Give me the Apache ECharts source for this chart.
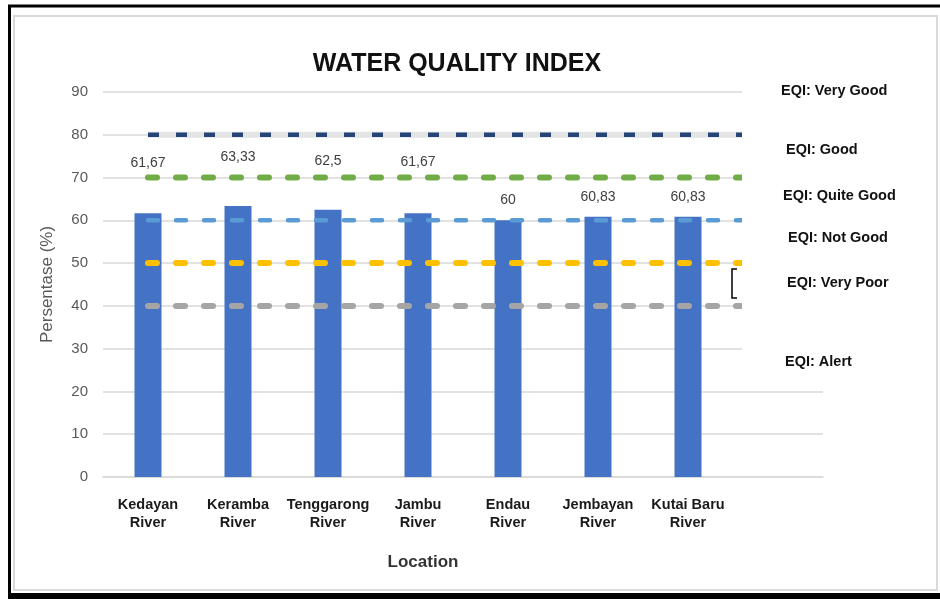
<!DOCTYPE html>
<html><head><meta charset="utf-8">
<script src="https://cdn.jsdelivr.net/npm/echarts@6/dist/echarts.min.js"></script>
<style>html,body{margin:0;padding:0;background:#fff}#c{width:940px;height:599px}</style>
</head><body><div id="c"></div>
<script>
const categories = ['Kedayan River','Keramba River','Tenggarong River','Jambu River','Endau River','Jembayan River','Kutai Baru River',''];
const wqiValues = [61.67, 63.33, 62.5, 61.67, 60, 60.83, 60.83];
const eqiVeryGood = [80,80,80,80,80,80,80,80];
const eqiGood = [70,70,70,70,70,70,70,70];
const eqiQuiteGood = [60,60,60,60,60,60,60,60];
const eqiNotGood = [50,50,50,50,50,50,50,50];
const eqiVeryPoor = [40,40,40,40,40,40,40,40];
const eqiLabels = ['EQI: Very Good','EQI: Good','EQI: Quite Good','EQI: Not Good','EQI: Very Poor','EQI: Alert'];
const yTicks = [0,10,20,30,40,50,60,70,80,90];

// styling (not data)
const labelDistance = [43,42,41,44,13,13,13];
const eqiLabelPos = [[781,91],[786,150],[783,196],[788,238],[787,283],[785,362]];

const chart = echarts.init(document.getElementById('c'));
const sans = "'Liberation Sans',Arial,sans-serif";

function dashLine(name, data, color, width, dash, cap, z) {
  return {
    name, type: 'line', data, symbol: 'none', silent: true, z: z || 3,
    lineStyle: { color, width, type: dash, cap: cap || 'butt' }
  };
}

const graphics = [
  { type: 'rect', shape: { x: 14, y: 16, width: 923, height: 574 }, style: { fill: 'none', stroke: '#d9d9d9', lineWidth: 2 }, z: 100 },
  { type: 'line', shape: { x1: 8, y1: 6, x2: 940, y2: 6 }, style: { stroke: '#000', lineWidth: 3 }, z: 100 },
  { type: 'line', shape: { x1: 9.5, y1: 5, x2: 9.5, y2: 599 }, style: { stroke: '#000', lineWidth: 3 }, z: 100 },
  { type: 'line', shape: { x1: 8, y1: 596, x2: 940, y2: 596 }, style: { stroke: '#000', lineWidth: 6 }, z: 100 },
  { type: 'rect', shape: { x: 742, y: 78, width: 193, height: 308 }, style: { fill: '#fff' }, z: 50 },
  { type: 'polyline', shape: { points: [[737, 269], [732, 269], [732, 298], [737, 298]] }, style: { stroke: '#000', lineWidth: 1.5, fill: 'none' }, z: 60 },
  { type: 'text', x: 423, y: 562, style: { text: 'Location', font: "bold 17px " + sans, fill: '#333', align: 'center', verticalAlign: 'middle' }, z: 60 }
];
eqiLabels.forEach((t, i) => {
  graphics.push({ type: 'text', x: eqiLabelPos[i][0], y: eqiLabelPos[i][1], style: { text: t, font: "bold 14.5px " + sans, fill: '#111', align: 'left', verticalAlign: 'middle' }, z: 60 });
});

chart.setOption({
  animation: false,
  backgroundColor: '#fff',
  title: {
    text: 'WATER QUALITY INDEX', left: 452, top: 47, textAlign: 'center',
    textStyle: { fontFamily: sans, fontWeight: 'bold', fontSize: 25, color: '#111' }
  },
  grid: { left: 103, right: 117, top: 92, bottom: 122, containLabel: false },
  xAxis: {
    type: 'category', data: categories, boundaryGap: true,
    axisLine: { lineStyle: { color: '#d9d9d9', width: 1.5 } },
    axisTick: { show: false },
    axisLabel: {
      interval: 0, margin: 19, color: '#1a1a1a', fontFamily: sans, fontWeight: 'bold', fontSize: 14.5, lineHeight: 18,
      formatter: v => v.replace(/ River$/, '\nRiver')
    }
  },
  yAxis: {
    type: 'value', min: 0, max: 90, interval: 10,
    name: 'Persentase (%)', nameLocation: 'middle', nameGap: 47,
    nameTextStyle: { color: '#595959', fontSize: 17, fontFamily: sans },
    axisLine: { show: false }, axisTick: { show: false },
    axisLabel: { color: '#595959', fontSize: 15, margin: 15, fontFamily: sans,
      formatter: v => yTicks.includes(v) ? String(v) : '' },
    splitLine: { lineStyle: { color: '#d9d9d9', width: 1.5 } }
  },
  series: [
    {
      name: 'WQI', type: 'bar', barWidth: 27, z: 2,
      data: wqiValues.map((v, i) => ({
        value: v,
        label: { show: true, position: 'top', distance: labelDistance[i],
          formatter: p => String(p.value).replace('.', ','),
          color: '#404040', fontSize: 14, fontFamily: sans }
      })),
      itemStyle: { color: '#4472c4' }
    },
    dashLine('Very Good base', eqiVeryGood, '#e4e4e4', 6, 'solid', 'butt', 3),
    dashLine('EQI: Very Good', eqiVeryGood, '#264478', 4.5, [11, 17], 'butt', 4),
    dashLine('EQI: Good', eqiGood, '#70ad47', 6, [9, 19], 'round', 4),
    dashLine('EQI: Quite Good', eqiQuiteGood, '#5b9bd5', 4.5, [10, 18], 'round', 4),
    dashLine('EQI: Not Good', eqiNotGood, '#ffc000', 6, [9, 19], 'round', 4),
    dashLine('EQI: Very Poor', eqiVeryPoor, '#a5a5a5', 6, [9, 19], 'round', 4)
  ],
  graphic: { elements: graphics }
});
</script>
</body></html>
